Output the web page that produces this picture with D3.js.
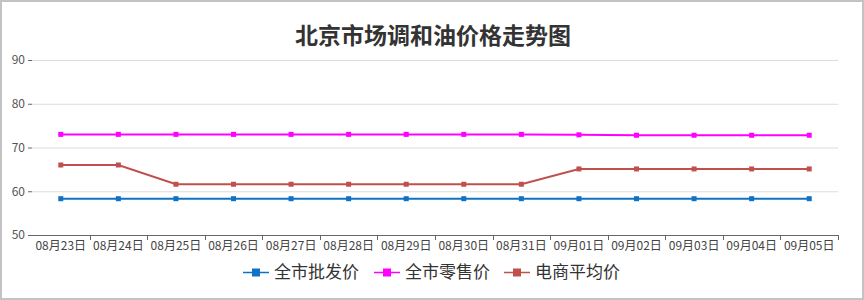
<!DOCTYPE html>
<html>
<head>
<meta charset="utf-8">
<script src="https://cdn.jsdelivr.net/npm/d3@7"></script>
<style>
  body { margin: 0; background: #fff; }
  svg { display: block; font-family: "Noto Sans CJK SC", "Noto Sans", sans-serif; }
</style>
</head>
<body>
<svg id="chart" width="864" height="300"></svg>
<script>
// Chart data
const dates = ['08月23日', '08月24日', '08月25日', '08月26日', '08月27日', '08月28日', '08月29日',
  '08月30日', '08月31日', '09月01日', '09月02日', '09月03日', '09月04日', '09月05日'];
const wholesale = [58.3, 58.3, 58.3, 58.3, 58.3, 58.3, 58.3, 58.3, 58.3, 58.3, 58.3, 58.3, 58.3, 58.3];
const retail = [73.0, 73.0, 73.0, 73.0, 73.0, 73.0, 73.0, 73.0, 73.0, 72.9, 72.8, 72.8, 72.8, 72.8];
const ecommerce = [66.0, 66.0, 61.6, 61.6, 61.6, 61.6, 61.6, 61.6, 61.6, 65.1, 65.1, 65.1, 65.1, 65.1];
const yTicks = [50, 60, 70, 80, 90];

const series = [
  { name: '全市批发价', values: wholesale, color: '#0f72c4' },
  { name: '全市零售价', values: retail, color: '#ff00ff' },
  { name: '电商平均价', values: ecommerce, color: '#c0504d' }
];

const svg = d3.select('#chart');
const width = 864, height = 300;
const margin = { left: 32, right: 26, top: 60, bottom: 65 };

// Outer border
svg.append('rect')
  .attr('x', 1).attr('y', 1)
  .attr('width', width - 2).attr('height', height - 2)
  .attr('fill', '#fff')
  .attr('stroke', '#c3c3c3')
  .attr('stroke-width', 2);

// Title
svg.append('text')
  .attr('x', 433)
  .attr('y', 44)
  .attr('text-anchor', 'middle')
  .attr('font-size', 23)
  .attr('font-weight', 'bold')
  .attr('fill', '#333')
  .text('北京市场调和油价格走势图');

const x = d3.scaleBand()
  .domain(dates)
  .range([margin.left, width - margin.right]);

const y = d3.scaleLinear()
  .domain([50, 90])
  .range([height - margin.bottom, margin.top]);

// Grid lines
svg.append('g')
  .selectAll('line')
  .data(yTicks.filter(d => d !== 50))
  .enter()
  .append('line')
  .attr('x1', margin.left)
  .attr('x2', width - margin.right)
  .attr('y1', d => y(d) + 0.5)
  .attr('y2', d => y(d) + 0.5)
  .attr('stroke', '#dcdcdc')
  .attr('stroke-width', 1);

// Y axis (no domain line, short ticks)
const yAxis = svg.append('g')
  .attr('transform', `translate(${margin.left},0)`)
  .call(d3.axisLeft(y).tickValues(yTicks).tickSize(4).tickPadding(3));
yAxis.select('.domain').remove();
yAxis.selectAll('.tick line').attr('stroke', '#666');
yAxis.selectAll('.tick text')
  .attr('font-size', 12)
  .attr('fill', '#555')
  .style('font-family', '"Noto Sans CJK SC", sans-serif');

// X axis line with ticks at band boundaries
const xAxisG = svg.append('g');
const axisY = y(50);
xAxisG.append('line')
  .attr('x1', margin.left - 4)
  .attr('x2', width - margin.right)
  .attr('y1', axisY + 0.5)
  .attr('y2', axisY + 0.5)
  .attr('stroke', '#666');
xAxisG.selectAll('.btick')
  .data(dates)
  .enter()
  .append('line')
  .attr('x1', d => Math.round(x(d) + x.bandwidth()) + 0.5)
  .attr('x2', d => Math.round(x(d) + x.bandwidth()) + 0.5)
  .attr('y1', axisY)
  .attr('y2', axisY + 5)
  .attr('stroke', '#666');
xAxisG.selectAll('text')
  .data(dates)
  .enter()
  .append('text')
  .attr('x', d => x(d) + x.bandwidth() / 2)
  .attr('y', axisY + 15)
  .attr('text-anchor', 'middle')
  .attr('font-size', 12)
  .attr('fill', '#444')
  .text(d => d);

// Lines and markers
const line = d3.line()
  .x((d, i) => x(dates[i]) + x.bandwidth() / 2)
  .y(d => y(d));

series.forEach(s => {
  const g = svg.append('g');
  g.append('path')
    .datum(s.values)
    .attr('d', line)
    .attr('fill', 'none')
    .attr('stroke', s.color)
    .attr('stroke-width', 2);
  g.selectAll('rect')
    .data(s.values)
    .enter()
    .append('rect')
    .attr('x', (d, i) => x(dates[i]) + x.bandwidth() / 2 - 2.5)
    .attr('y', d => y(d) - 2.5)
    .attr('width', 5)
    .attr('height', 5)
    .attr('fill', s.color);
});

// Legend
const legendStarts = [243, 374, 504];
const legend = svg.append('g').attr('transform', 'translate(0,272)');
series.forEach((s, i) => {
  const item = legend.append('g').attr('transform', `translate(${legendStarts[i]},0)`);
  item.append('line')
    .attr('x1', 0).attr('x2', 26)
    .attr('y1', 0.5).attr('y2', 0.5)
    .attr('stroke', s.color)
    .attr('stroke-width', 1.5);
  item.append('rect')
    .attr('x', 9).attr('y', -3.5)
    .attr('width', 8).attr('height', 8)
    .attr('fill', s.color);
  item.append('text')
    .attr('x', 31)
    .attr('y', 6)
    .attr('font-size', 17)
    .attr('fill', '#333')
    .text(s.name);
});
</script>
</body>
</html>
